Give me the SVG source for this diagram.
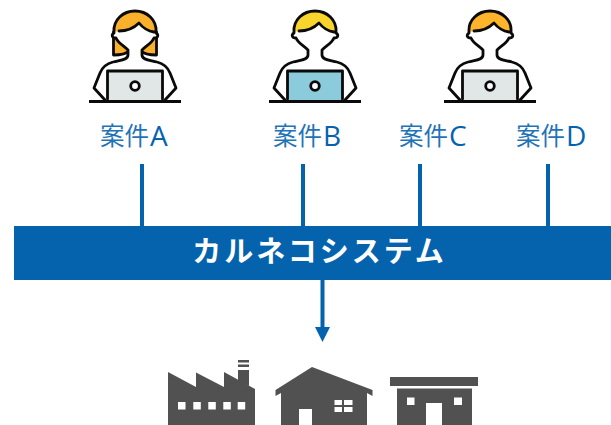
<svg xmlns="http://www.w3.org/2000/svg" xmlns:xlink="http://www.w3.org/1999/xlink" width="611" height="425" viewBox="0 0 611 425">
<style>
.ln{fill:none;stroke:#0a0a0a;stroke-width:2.800;stroke-linecap:round;stroke-linejoin:round}
.lbl{font-family:"Noto Sans CJK JP","Open Sans",sans-serif;font-size:24.500px;fill:#1f74b8}
.lat{font-family:"Open Sans",sans-serif;font-size:28px;fill:#0563ae}
.title{font-family:"Noto Sans CJK JP",sans-serif;font-size:29px;font-weight:700;fill:#fff;text-anchor:middle;letter-spacing:3px}
.conn{stroke:#0563ae;stroke-width:4;fill:none}
.b{fill:#515151}
.w{fill:#fff}
</style>
<defs>
<marker id="ah" markerUnits="userSpaceOnUse" markerWidth="17" markerHeight="15" refX="0" refY="7.5" orient="auto"><path d="M0 0L15 7.5L0 15Z" fill="#0563ae"/></marker>
<g id="body">
<path class="w" d="M-21 33C-24 35-23 38-19 38C-17 43-11 46-7 50V55C-7 60-15 60-22 62C-30 64-33 68-35 73L-41 88L-30 100H30L41 88L35 73C33 68 30 64 22 62C15 60 7 60 7 55V50C11 46 17 43 19 38C23 38 24 35 21 33V22L0 13L-21 22Z"/>
<path class="ln" d="M-21 33C-24 35-23 38-19 38C-17 43-11 46-7 50V55C-7 60-15 60-22 62C-30 64-33 68-35 73L-41 88L-30 100M21 33C24 35 23 38 19 38C17 43 11 46 7 50V55C7 60 15 60 22 62C30 64 33 68 35 73L41 88L30 100"/>
</g>
<g id="lap">
<path d="M-27.500 71H27.500V100H-27.500Z" fill="inherit"/>
<path class="ln" d="M-27.500 99V71H27.500V99" stroke-linecap="butt"/>
<circle cx="0" cy="86" r="4.300" fill="#fff" stroke="#0a0a0a" stroke-width="2.800"/>
<path d="M-46 101.500H46" stroke="#0a0a0a" stroke-width="3" fill="none"/>
</g>
<path id="hair" d="M-21 32C-22 20-12 11 0 11C12 11 22 20 21 32C12 32 8 28 4 23C0 28-8 32-16 31Z"/>
<path id="hairline" class="ln" d="M-21 32C-22 20-12 11 0 11C12 11 22 20 21 32M-16 31C-8 31-1 28 4 23C8 28 12 31 19 32"/>
</defs>

<g id="connectors">
<path class="conn" d="M142 164V226M303 164V226M420 164V226M548 164V226"/>
<path class="conn" d="M322.500 280V327" marker-end="url(#ah)"/>
</g>

<g id="person-a">
<g transform="translate(135 0)">
<path fill="#fbb02b" stroke="#0a0a0a" stroke-width="2.800" stroke-linejoin="round" d="M-21.500 32V55C-16 55-9 54-6 51V40H6V51C9 54 16 55 21.500 55V32Z"/>
<use xlink:href="#body"/>
<use xlink:href="#hair" fill="#fbb02b"/>
<use xlink:href="#hairline"/>
<use xlink:href="#lap" fill="#e1e6e6"/>
</g>
<text class="lbl" x="100" y="145">案件<tspan class="lat" dx="1" y="146">A</tspan></text>
</g>
<g id="person-b">
<g transform="translate(315 0)">
<use xlink:href="#body"/>
<use xlink:href="#hair" fill="#f7d52c"/>
<use xlink:href="#hairline"/>
<use xlink:href="#lap" fill="#8bcbdc"/>
</g>
<text class="lbl" x="273" y="145">案件<tspan class="lat" dx="1" y="146">B</tspan></text>
</g>
<g id="person-c">
<g transform="translate(490 0)">
<use xlink:href="#body"/>
<use xlink:href="#hair" fill="#fdb32a"/>
<use xlink:href="#hairline"/>
<use xlink:href="#lap" fill="#e1e6e6"/>
</g>
<text class="lbl" x="399" y="145">案件<tspan class="lat" dx="1" y="146">C</tspan></text>
</g>
<g id="case-d"><text class="lbl" x="516" y="145">案件<tspan class="lat" dx="1" y="146">D</tspan></text></g>

<g id="system">
<rect x="14" y="226" width="597" height="54" fill="#0563ae"/>
<text class="title" x="319.500" y="262">カルネコシステム</text>
</g>

<g id="factory">
<path class="b" d="M238 370H249V386L238 381Z"/>
<path class="b" d="M238 360H249V362.500H238ZM238 364.500H249V367H238Z"/>
<path class="b" d="M168 372L196 387V372.500L224 387V372L255 389V425H168Z"/>
<path class="w" d="M178 402h7.500v7.500h-7.500ZM193.300 402h7.500v7.500h-7.500ZM208.300 402h7.500v7.500h-7.500ZM223.300 402h7.500v7.500h-7.500ZM237.700 402h7.500v7.500h-7.500Z"/>
</g>
<g id="house">
<path class="b" d="M312 367L372.500 390V396L367 393V425H281V393L275.500 396V390Z"/>
<path class="w" d="M299 409H312V425H299ZM334.500 400H342V405H334.500ZM344 400H352.500V405H344ZM334.500 407H342V412H334.500ZM344 407H352.500V412H344Z"/>
</g>
<g id="store">
<path class="b" d="M390 377H478V386H390ZM397 388.500H472V425H397Z"/>
<path class="w" d="M407 397.500H414.500V405H407ZM454 397.500H462V405H454ZM426 403H442V425H426Z"/>
</g>
</svg>
